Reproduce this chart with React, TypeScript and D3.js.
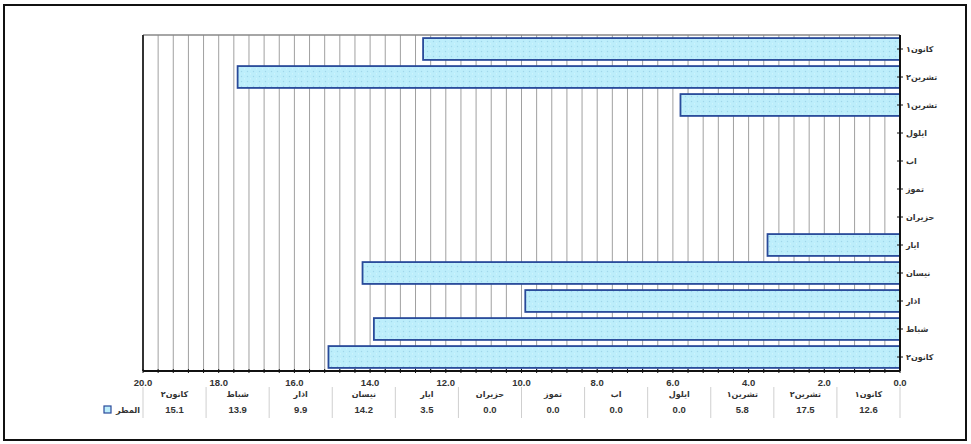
import React from "react";
import * as d3 from "d3";

// Categories from bottom (January) to top (December)
const months = ["كانون٢", "شباط", "اذار", "نيسان", "ايار", "حزيران", "تموز", "اب", "ايلول", "تشرين١", "تشرين٢", "كانون١"];
const rainfall = [15.1, 13.9, 9.9, 14.2, 3.5, 0.0, 0.0, 0.0, 0.0, 5.8, 17.5, 12.6];
const seriesName = "المطر";
const xTicks = [20, 18, 16, 14, 12, 10, 8, 6, 4, 2, 0];

const W = 971;
const H = 444;
const plot = { left: 143, right: 900, top: 35, bottom: 371 };

export default function App() {
  const x = d3.scaleLinear().domain([20, 0]).range([plot.left, plot.right]);
  const y = d3
    .scaleBand<string>()
    .domain([...months].reverse())
    .range([plot.top, plot.bottom])
    .paddingInner(0.22)
    .paddingOuter(0.11);
  const yCenter = d3
    .scaleBand<string>()
    .domain([...months].reverse())
    .range([plot.top, plot.bottom]);

  const gridVals = d3.range(0, 51).map((i) => +(i * 0.4).toFixed(1));
  const colScale = d3
    .scaleBand<string>()
    .domain(months)
    .range([plot.left, plot.right]);

  const arabicFont = "'DejaVu Sans', sans-serif";
  const numFont = "'Liberation Sans', Arial, sans-serif";

  return (
    <svg
      width={W}
      height={H}
      viewBox={`0 0 ${W} ${H}`}
      style={{ position: "absolute", left: 0, top: 0, background: "#fff" }}
    >
      <defs>
        <pattern id="dots" width="6" height="5" patternUnits="userSpaceOnUse">
          <rect width="6" height="5" fill="#bdeefb" />
          <circle cx="1.5" cy="1.5" r="0.7" fill="#9fd6ea" />
          <circle cx="4.5" cy="3.8" r="0.6" fill="#d8f8ff" />
        </pattern>
      </defs>
      <rect x={0} y={0} width={W} height={H} fill="#fff" />
      <rect x={4} y={5} width={962} height={435} fill="none" stroke="#111" strokeWidth={2} />

      {gridVals.map((v) => (
        <line
          key={"g" + v}
          x1={x(v)}
          x2={x(v)}
          y1={plot.top}
          y2={plot.bottom}
          stroke="#a0a0a0"
          strokeWidth={1}
        />
      ))}
      <line x1={plot.left} x2={plot.right} y1={plot.top} y2={plot.top} stroke="#888" strokeWidth={1.5} />
      <line x1={plot.left} x2={plot.left} y1={plot.top} y2={plot.bottom} stroke="#333" strokeWidth={2} />

      {months.map((m, i) => (
        <rect
          key={"b" + m}
          x={x(rainfall[i])}
          y={y(m)!}
          width={x(0) - x(rainfall[i])}
          height={y.bandwidth()}
          fill="url(#dots)"
          stroke="#284a9a"
          strokeWidth={1.8}
        />
      ))}

      <line x1={plot.left} x2={plot.right} y1={plot.bottom} y2={plot.bottom} stroke="#111" strokeWidth={2} />
      {gridVals.map((v) => (
        <line
          key={"t" + v}
          x1={x(v)}
          x2={x(v)}
          y1={plot.bottom - 2}
          y2={plot.bottom + 2}
          stroke="#111"
          strokeWidth={1}
        />
      ))}
      {xTicks.map((v) => (
        <text
          key={"xl" + v}
          x={x(v)}
          y={386}
          textAnchor="middle"
          fontFamily={numFont}
          fontWeight="bold"
          fontSize={9.5}
          fill="#333"
        >
          {v.toFixed(1)}
        </text>
      ))}

      <line x1={plot.right} x2={plot.right} y1={plot.top} y2={plot.bottom} stroke="#111" strokeWidth={2} />
      {months.map((m) => (
        <g key={"yl" + m}>
          <line
            x1={plot.right - 3}
            x2={plot.right + 3}
            y1={yCenter(m)! + yCenter.bandwidth() / 2}
            y2={yCenter(m)! + yCenter.bandwidth() / 2}
            stroke="#111"
            strokeWidth={1}
          />
          <text
            x={906}
            y={yCenter(m)! + yCenter.bandwidth() / 2 + 3}
            textAnchor="start"
            fontFamily={arabicFont}
            fontWeight="bold"
            fontSize={8}
            fill="#333"
          >
            {m}
          </text>
        </g>
      ))}

      {d3.range(0, months.length + 1).map((i) => {
        const xx = plot.left + i * colScale.step();
        return (
          <line key={"c" + i} x1={xx} x2={xx} y1={387} y2={418} stroke="#cfcfcf" strokeWidth={1} />
        );
      })}
      {months.map((m, i) => {
        const cx = colScale(m)! + colScale.bandwidth() / 2;
        return (
          <g key={"tb" + m}>
            <text
              x={cx}
              y={397}
              textAnchor="middle"
              fontFamily={arabicFont}
              fontWeight="bold"
              fontSize={8}
              fill="#333"
            >
              {m}
            </text>
            <text
              x={cx}
              y={413}
              textAnchor="middle"
              fontFamily={numFont}
              fontWeight="bold"
              fontSize={9.5}
              fill="#333"
            >
              {rainfall[i].toFixed(1)}
            </text>
          </g>
        );
      })}
      <rect x={104} y={406} width={7} height={7} fill="#bdeefb" stroke="#284a9a" strokeWidth={1.2} />
      <text
        x={140}
        y={413}
        textAnchor="end"
        fontFamily={arabicFont}
        fontWeight="bold"
        fontSize={8}
        fill="#333"
      >
        {seriesName}
      </text>
    </svg>
  );
}
